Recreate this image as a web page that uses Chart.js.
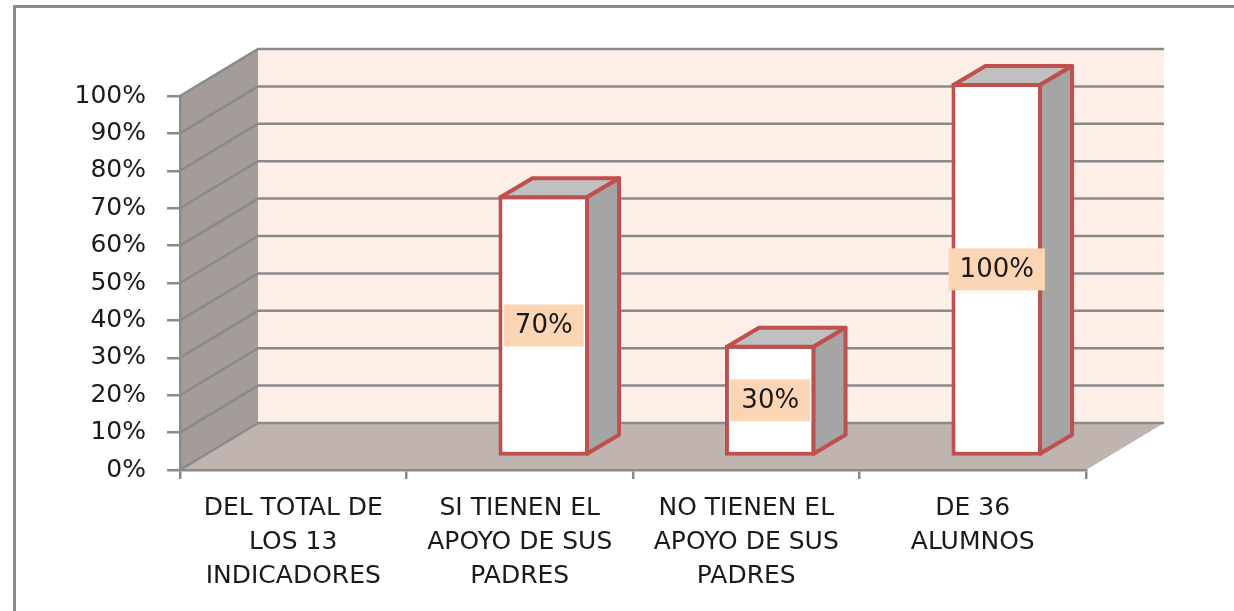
<!DOCTYPE html>
<html lang="es">
<head>
<meta charset="UTF-8">
<title>Apoyo de los padres</title>
<script src="https://cdn.jsdelivr.net/npm/chart.js"></script>
<style>
  body { margin: 0; background: #fff; }
  #wrap { width: 1234px; height: 611px; }
</style>
</head>
<body>
<div id="wrap"><canvas id="grafico"></canvas></div>
<script>
  // datos del grafico
  let categorias = [
    ['DEL TOTAL DE', 'LOS 13', 'INDICADORES'],
    ['SI TIENEN EL', 'APOYO DE SUS', 'PADRES'],
    ['NO TIENEN EL', 'APOYO DE SUS', 'PADRES'],
    ['DE 36', 'ALUMNOS']
  ];
  let porcentajes = [0, 70, 30, 100];
  let etiquetas = ['', '70%', '30%', '100%'];

  // profundidad del efecto 3D
  const PARED_DX = 78, PARED_DY = -47;
  const BARRA_DX = 24, BARRA_DY = -13;
  const FONDO_DX = 32, FONDO_DY = -19;
  const FUENTE = '"DejaVu Sans", sans-serif';

  function poly(ctx, pts) {
    ctx.beginPath();
    ctx.moveTo(pts[0][0], pts[0][1]);
    for (let i = 1; i < pts.length; i++) ctx.lineTo(pts[i][0], pts[i][1]);
    ctx.closePath();
  }

  let paredes = {
    id: 'paredes',
    beforeDraw(chart) {
      let ctx = chart.ctx;
      let { left, right, top, bottom } = chart.chartArea;
      let y = chart.scales.y;
      ctx.save();
      // marco exterior
      ctx.strokeStyle = '#8c8c8c';
      ctx.lineWidth = 3;
      ctx.beginPath();
      ctx.moveTo(14.5, 611);
      ctx.lineTo(14.5, 6.5);
      ctx.lineTo(1234, 6.5);
      ctx.stroke();

      // pared del fondo
      ctx.fillStyle = '#fdeee8';
      ctx.fillRect(left + PARED_DX, top + PARED_DY, right - left, bottom - top);
      // pared lateral
      ctx.fillStyle = '#a39c99';
      poly(ctx, [[left, bottom], [left, top], [left + PARED_DX, top + PARED_DY], [left + PARED_DX, bottom + PARED_DY]]);
      ctx.fill();
      // piso
      ctx.fillStyle = '#bfb4b0';
      poly(ctx, [[left, bottom], [right, bottom], [right + PARED_DX, bottom + PARED_DY], [left + PARED_DX, bottom + PARED_DY]]);
      ctx.fill();

      // lineas de division
      ctx.strokeStyle = '#8a8a8a';
      ctx.lineWidth = 2.5;
      y.ticks.forEach(t => {
        let py = y.getPixelForValue(t.value);
        ctx.beginPath();
        ctx.moveTo(left, py);
        ctx.lineTo(left + PARED_DX, py + PARED_DY);
        ctx.lineTo(right + PARED_DX, py + PARED_DY);
        ctx.stroke();
      });
      ctx.restore();
    },
    beforeDatasetsDraw(chart) {
      chart.ctx.save();
      chart.ctx.translate(BARRA_DX, BARRA_DY);
    },
    afterDatasetsDraw(chart) {
      let ctx = chart.ctx;
      ctx.restore();
      let meta = chart.getDatasetMeta(0);
      ctx.save();
      ctx.strokeStyle = '#c0504d';
      ctx.lineWidth = 4;
      ctx.lineJoin = 'round';
      meta.data.forEach((bar, i) => {
        if (!porcentajes[i]) return;
        let p = bar.getProps(['x', 'y', 'base', 'width'], true);
        let x0 = p.x - p.width / 2 + BARRA_DX + 2;
        let x1 = p.x + p.width / 2 + BARRA_DX - 2;
        let yt = p.y + BARRA_DY + 2;
        let yb = p.base + BARRA_DY - 2;
        // cara superior
        ctx.fillStyle = '#c0c0c0';
        poly(ctx, [[x0, yt], [x1, yt], [x1 + FONDO_DX, yt + FONDO_DY], [x0 + FONDO_DX, yt + FONDO_DY]]);
        ctx.fill();
        ctx.stroke();
        // cara lateral
        ctx.fillStyle = '#a5a5a5';
        poly(ctx, [[x1, yt], [x1 + FONDO_DX, yt + FONDO_DY], [x1 + FONDO_DX, yb + FONDO_DY], [x1, yb]]);
        ctx.fill();
        ctx.stroke();
      });
      ctx.restore();
    },
    afterDraw(chart) {
      let ctx = chart.ctx;
      let meta = chart.getDatasetMeta(0);
      ctx.save();
      ctx.font = '26px ' + FUENTE;
      ctx.textAlign = 'center';
      ctx.textBaseline = 'middle';
      meta.data.forEach((bar, i) => {
        if (!porcentajes[i]) return;
        let p = bar.getProps(['x', 'y', 'base'], true);
        let cx = p.x + BARRA_DX;
        let cy = (p.y + p.base) / 2 + BARRA_DY;
        let w = ctx.measureText(etiquetas[i]).width + 22;
        ctx.fillStyle = '#fcd5b5';
        ctx.fillRect(cx - w / 2, cy - 21, w, 42);
        ctx.fillStyle = '#1a1a1a';
        ctx.fillText(etiquetas[i], cx, cy + 1);
      });
      ctx.restore();
    }
  };

  let ctx = document.getElementById('grafico').getContext('2d');
  let grafico = new Chart(ctx, {
    type: 'bar',
    data: {
      labels: categorias,
      datasets: [{
        data: porcentajes,
        backgroundColor: '#ffffff',
        borderColor: '#c0504d',
        borderWidth: 4,
        borderSkipped: false,
        barPercentage: 0.4,
        categoryPercentage: 1,
        clip: false
      }]
    },
    options: {
      responsive: true,
      maintainAspectRatio: false,
      animation: false,
      layout: { padding: { top: 96, right: 148, left: 0, bottom: 0 } },
      plugins: {
        legend: { display: false },
        tooltip: { enabled: false }
      },
      scales: {
        x: {
          offset: true,
          grid: { offset: true, drawOnChartArea: false, drawTicks: true, tickLength: 9, color: '#8a8a8a', lineWidth: 2.5 },
          border: { display: true, color: '#8a8a8a', width: 2.5 },
          ticks: {
            color: '#1a1a1a', padding: 12, maxRotation: 0, autoSkip: false,
            font: { family: FUENTE, size: 25, lineHeight: 1.36 }
          },
          afterFit(scale) { scale.height = 141; }
        },
        y: {
          min: 0,
          max: 100,
          grid: { drawOnChartArea: false, drawTicks: true, tickLength: 13, color: '#8a8a8a', lineWidth: 2.5 },
          border: { display: true, color: '#8a8a8a', width: 2.5 },
          ticks: {
            stepSize: 10, color: '#1a1a1a', padding: 21,
            font: { family: FUENTE, size: 25 },
            callback: v => v + '%'
          },
          afterFit(scale) { scale.width = 180; }
        }
      }
    },
    plugins: [paredes]
  });
</script>
</body>
</html>
